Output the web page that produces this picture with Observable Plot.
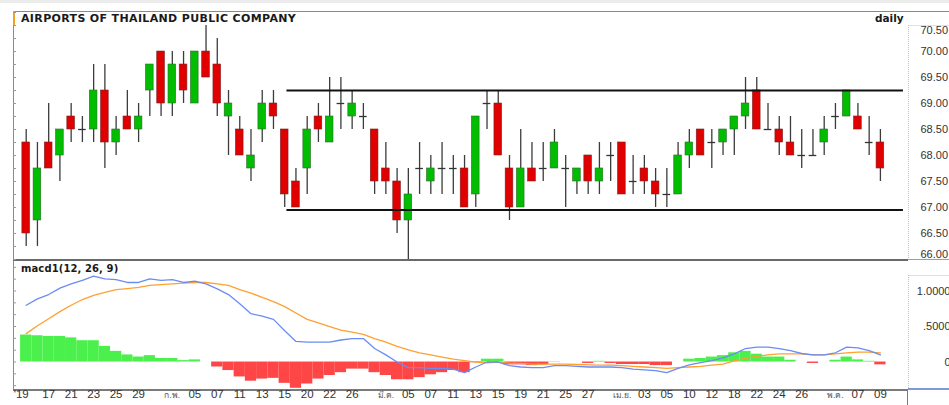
<!DOCTYPE html>
<html><head><meta charset="utf-8">
<script src="https://cdn.jsdelivr.net/npm/d3@7"></script>
<script src="https://cdn.jsdelivr.net/npm/@observablehq/plot@0.6"></script>
<style>
body{margin:0;background:#fff;}
#wrap{position:relative;width:949px;height:405px;overflow:hidden;background:#fff;font-family:"Liberation Sans",Arial,"Noto Sans","DejaVu Sans",sans-serif;}
#wrap svg{position:absolute;left:0;overflow:visible;}
.ln{position:absolute;}
.lbl{position:absolute;font-family:"DejaVu Sans",sans-serif;font-weight:bold;color:#1a1a1a;white-space:nowrap;line-height:1;}
</style></head><body>
<div id="wrap">
  <div class="ln" style="left:0;top:0;width:949px;height:3px;background:#ececec"></div>
  <div class="ln" style="left:13px;top:11px;width:936px;height:1px;background:#8a8a8a"></div>
  <div class="ln" style="left:13px;top:11px;width:1px;height:380px;background:#8a8a8a"></div>
  <div class="ln" style="left:13px;top:11px;width:2px;height:14px;background:#f5a020"></div>
  <div class="ln" style="left:908px;top:25px;width:41px;height:1px;background:#efe2b0"></div>
  <div class="ln" style="left:908px;top:25px;width:0;height:235px;border-left:1px dotted #d8c58a"></div>
  <div class="ln" style="left:908px;top:275px;width:41px;height:1px;background:#efe2b0"></div>
  <div class="ln" style="left:908px;top:275px;width:0;height:115px;border-left:1px dotted #d8c58a"></div>
  <div class="ln" style="left:908px;top:388px;width:41px;height:2px;background:#7f9ad8"></div>
  <div class="ln" style="left:13px;top:259px;width:895px;height:2px;background:#6a6a6a"></div>
  <div class="ln" style="left:908px;top:259px;width:41px;height:1px;background:#8aa0d0"></div>
  <div class="ln" style="left:13px;top:389px;width:895px;height:2px;background:#7a7a7a"></div>
  <div class="ln" style="left:907px;top:389px;width:1px;height:16px;background:#7a7a7a"></div>
  <div class="lbl" style="left:21px;top:13px;font-size:11px;letter-spacing:0.35px">AIRPORTS OF THAILAND PUBLIC COMPANY</div>
  <div class="lbl" style="left:875px;top:13px;font-size:10.5px">daily</div>
  <div class="lbl" style="left:21px;top:264px;font-size:10px;letter-spacing:0.1px">macd1(12, 26, 9)</div>
</div>
<script>
// ---- price data (one candle per trading day, index 0 = 15 Jan 2019 ... 76 = 9 May 2019)
const openP  = [68.25,66.75,68.25,68,68.75,68.5,68.5,69.25,68.25,68.75,68.5,69.25,70,69,69.75,69,70,69.75,68.75,68.5,67.75,68.5,69,68.5,67.5,67.75,68.75,68.25,69,68.75,68.75,68.5,67.75,67.5,66.75,67.75,67.5,67.75,67.75,67.75,67.25,69,69,67.75,67,67.75,67.75,67.75,67.75,67.5,68,67.5,68,68.25,67.5,67.75,67.5,67.25,67.25,68,68.5,68.25,68.25,68.5,68.75,69.25,68.5,68.5,68.25,68,68,68.25,68.75,68.75,68.75,68.25,68.25];
const highP  = [68.5,68.25,69,68.5,69,68.75,69.75,69.75,68.75,69.25,69,69.75,70,70,70,70,70.5,70.25,69.25,68.75,68.5,69.25,69.25,68.5,67.75,68.75,69,69.5,69.5,69.25,69,68.5,68.25,67.75,67.75,68.25,68,68.25,68,68,68.75,69.25,69.25,68,68.5,68.25,68.25,68.5,68,67.75,68,68.25,68.25,68.25,68,68,67.75,67.75,68.25,68.5,68.5,68.5,68.5,68.75,69.5,69.5,69,68.75,68.75,68.5,68.5,68.75,69,69.25,69,68.75,68.5];
const lowP   = [66.25,66.25,67.75,67.5,68.25,68.25,68.25,67.75,68,68.5,68.25,68.75,68.75,68.75,69,69,69.5,68.75,68,68,67.5,68.25,68.5,67,67,67.25,68.25,68.25,68.5,68.5,68.5,67.25,67.25,66.5,66,67.25,67.25,67.25,67.25,67,67,68.5,68,66.75,67,67.5,67.5,67.75,67,67.25,67.25,67.25,67.5,67.25,67.25,67.25,67,67,67.25,67.75,68,67.75,68,68,68.5,68.5,68.5,68,68,67.75,68,68,68.5,68.75,68.5,68,67.5];
const closeP = [66.5,67.75,67.75,68.5,68.5,68.5,69.25,68.25,68.5,68.5,68.75,69.75,69,69.75,69.25,70,69.5,69,69,68,68,69,68.75,67.25,67,68.5,68.5,68.75,69,69,68.75,67.5,67.5,66.75,67.25,67.75,67.75,67.75,67.75,67,68.75,69,68,67,67.75,67.5,67.75,68.25,67.75,67.75,67.5,67.75,68,67.25,67.5,67.5,67.25,67.25,68,68.25,68,68.25,68.5,68.75,69,68.5,68.5,68.25,68,68,68,68.5,68.75,69.25,68.5,68.25,67.75];
// horizontal resistance / support lines drawn on the chart
const levelPrice = [69.25, 66.95];
const levelFrom  = [23.2, 23.2];
const levelTo    = [78.05, 78.05];
// ---- MACD(12,26,9)
const macdLine = [0.80,0.89,0.95,1.04,1.10,1.15,1.21,1.17,1.16,1.12,1.12,1.17,1.15,1.16,1.12,1.14,1.10,1.03,0.95,0.82,0.68,0.645,0.60,0.44,0.29,0.28,0.28,0.28,0.31,0.33,0.33,0.19,0.10,0.0,-0.08,-0.08,-0.09,-0.09,-0.10,-0.15,-0.07,0.0,0.0,-0.05,-0.07,-0.08,-0.08,-0.05,-0.05,-0.06,-0.07,-0.07,-0.07,-0.08,-0.10,-0.11,-0.12,-0.15,-0.09,-0.04,-0.01,0.02,0.06,0.115,0.19,0.21,0.21,0.19,0.16,0.12,0.10,0.10,0.13,0.21,0.20,0.16,0.10];
const signalLine = [0.40,0.51,0.61,0.71,0.80,0.88,0.94,0.98,1.02,1.035,1.05,1.08,1.09,1.10,1.11,1.12,1.12,1.10,1.08,1.02,0.97,0.91,0.85,0.78,0.69,0.60,0.55,0.50,0.45,0.42,0.39,0.33,0.28,0.22,0.17,0.13,0.10,0.07,0.04,0.02,0.0,-0.01,0.0,-0.015,-0.02,-0.03,-0.03,-0.03,-0.03,-0.035,-0.04,-0.045,-0.045,-0.05,-0.06,-0.07,-0.08,-0.09,-0.08,-0.07,-0.06,-0.045,-0.03,0.015,0.05,0.08,0.10,0.115,0.115,0.115,0.10,0.10,0.115,0.13,0.14,0.14,0.13];
const histogram = [0.38,0.37,0.36,0.36,0.34,0.30,0.30,0.22,0.15,0.10,0.07,0.09,0.05,0.05,0.02,0.03,0.0,-0.07,-0.12,-0.21,-0.27,-0.24,-0.23,-0.30,-0.37,-0.31,-0.24,-0.19,-0.15,-0.10,-0.10,-0.15,-0.19,-0.25,-0.25,-0.22,-0.18,-0.15,-0.12,-0.15,-0.01,0.04,0.04,-0.04,-0.04,-0.05,-0.04,0.005,0.0,0.0,-0.02,0.01,-0.02,-0.035,-0.035,-0.035,-0.05,-0.05,0.0,0.04,0.05,0.07,0.09,0.13,0.15,0.11,0.07,0.07,0.025,0.0,-0.02,0.0,0.025,0.07,0.03,0.01,-0.04];
// ---- axis ticks
const xTickIndex = [0,2,4,6,8,10,13,15,17,19,21,23,25,27,29,32,34,36,38,40,42,44,46,48,50,53,55,57,59,61,63,65,67,69,72,74,76];
const xTickLabel = ["'19","17","21","23","25","29","ก.พ.","05","07","11","13","15","20","22","26","มี.ค.","05","07","11","13","15","19","21","25","27","เม.ย.","03","05","10","12","18","22","24","26","พ.ค.","07","09"];
const priceTicks = [66,66.5,67,67.5,68,68.5,69,69.5,70,70.5];
const macdTicks = [1,0.5,0];
const macdTickLabel = ["1.0000",".5000","0"];

const candles = openP.map((o,i)=>({i, open:o, high:highP[i], low:lowP[i], close:closeP[i]}));
const levels = levelPrice.map((p,k)=>({price:p, from:levelFrom[k], to:levelTo[k]}));
const xDomain = [-1.13, 78.5];
const font = {fontFamily:'"Liberation Sans",Arial,"Noto Sans",sans-serif', fontSize:"11px", background:"transparent"};
const bw = 0.34;
const wrap = document.getElementById("wrap");
const last = closeP[closeP.length-1];

const main = Plot.plot({
  width:949, height:249, marginLeft:13, marginRight:41, marginTop:0, marginBottom:0,
  style:font,
  x:{domain:xDomain, axis:null},
  y:{domain:[65.98,70.77], axis:null},
  marks:[
    Plot.axisY({anchor:"left", ticks:d3.range(66,70.76,0.25), tickSize:-3, tickFormat:()=>"", label:null, stroke:"#999"}),
    Plot.ruleX(candles, {x:"i", y1:"low", y2:"high", stroke:"#3c3c3c", strokeWidth:1.3}),
    Plot.rect(candles.filter(d=>d.open!==d.close), {x1:d=>d.i-bw, x2:d=>d.i+bw, y1:"open", y2:"close",
      fill:d=>d.close>d.open?"#00bd00":"#e00000", stroke:d=>d.close>d.open?"#2c6a2c":"#7a2020", strokeWidth:0.6}),
    Plot.ruleY(candles.filter(d=>d.open===d.close), {y:"open", x1:d=>d.i-bw, x2:d=>d.i+bw, stroke:"#333", strokeWidth:1.3}),
    Plot.ruleY(levels, {y:"price", x1:"from", x2:"to", stroke:"#111", strokeWidth:2}),
    Plot.text(priceTicks.filter(v=>v>66 && v<70.5), {y:d=>d, text:d=>d.toFixed(2), frameAnchor:"right", textAnchor:"start", dx:12, fill:"#333"}),
    Plot.text(priceTicks.filter(v=>v===70.5), {y:d=>d, text:d=>d.toFixed(2), frameAnchor:"right", textAnchor:"start", dx:12, dy:5, fill:"#333"}),
    Plot.text(priceTicks.filter(v=>v===66), {y:d=>d, text:d=>d.toFixed(2), frameAnchor:"right", textAnchor:"start", dx:12, dy:-5, fill:"#333"}),
    Plot.text([last], {y:d=>d, text:d=>d.toFixed(2), frameAnchor:"right", textAnchor:"start", dx:2, fill:"#fff", ariaLabel:"lastprice"})
  ]
});
main.style.top = "11px";
wrap.appendChild(main);
// blue highlight box behind the last price
{
  const t = main.querySelector('g[aria-label="lastprice"] text');
  if (t) {
    const b = t.getBBox();
    const r = document.createElementNS("http://www.w3.org/2000/svg","rect");
    r.setAttribute("x", b.x-1); r.setAttribute("y", b.y);
    r.setAttribute("width", b.width+2); r.setAttribute("height", b.height);
    r.setAttribute("fill", "#3d6ee6");
    if (t.getAttribute("transform")) r.setAttribute("transform", t.getAttribute("transform"));
    t.parentNode.insertBefore(r, t);
  }
}

const hist = histogram.map((v,i)=>({i, v}));
const macdData = macdLine.map((v,i)=>({i, v}));
const sigData = signalLine.map((v,i)=>({i, v}));
const isMonth = s => /[^0-9']/.test(s);
const xt = xTickIndex.map((x,k)=>({x, label:xTickLabel[k]}));

const macd = Plot.plot({
  width:949, height:145, marginLeft:13, marginRight:41, marginTop:0, marginBottom:15,
  style:font,
  x:{domain:xDomain, axis:null},
  y:{domain:[-0.401,1.4296], axis:null},
  marks:[
    Plot.axisY({anchor:"left", ticks:d3.range(-2,9).map(k=>k/6), tickSize:-3, tickFormat:()=>"", label:null, stroke:"#999"}),
    Plot.rect(hist, {x1:d=>d.i-0.5, x2:d=>d.i+0.5, y1:0, y2:"v", fill:d=>d.v>=0?"#4cf04c":"#ff4646"}),
    Plot.line(sigData, {x:"i", y:"v", stroke:"#ffa030", strokeWidth:1.3}),
    Plot.line(macdData, {x:"i", y:"v", stroke:"#6b8cf2", strokeWidth:1.3}),
    Plot.text(macdTicks, {y:d=>d, text:(d,k)=>macdTickLabel[k], frameAnchor:"right", textAnchor:"end", dx:42, fill:"#333"}),
    Plot.text(xt.filter((d,k)=>k>0 && !isMonth(d.label)), {x:"x", text:"label", frameAnchor:"bottom", dy:7, fill:"#333", fontSize:11.5}),
    Plot.text(xt.filter((d,k)=>k===0), {x:"x", text:"label", frameAnchor:"bottom", dy:7, dx:-5, fill:"#333", fontSize:11.5}),
    Plot.text(xt.filter(d=>isMonth(d.label)), {x:"x", text:"label", frameAnchor:"bottom", dy:7, fill:"#555", fontSize:8.5})
  ]
});
macd.style.top = "260px";
wrap.appendChild(macd);
</script>
</body></html>
